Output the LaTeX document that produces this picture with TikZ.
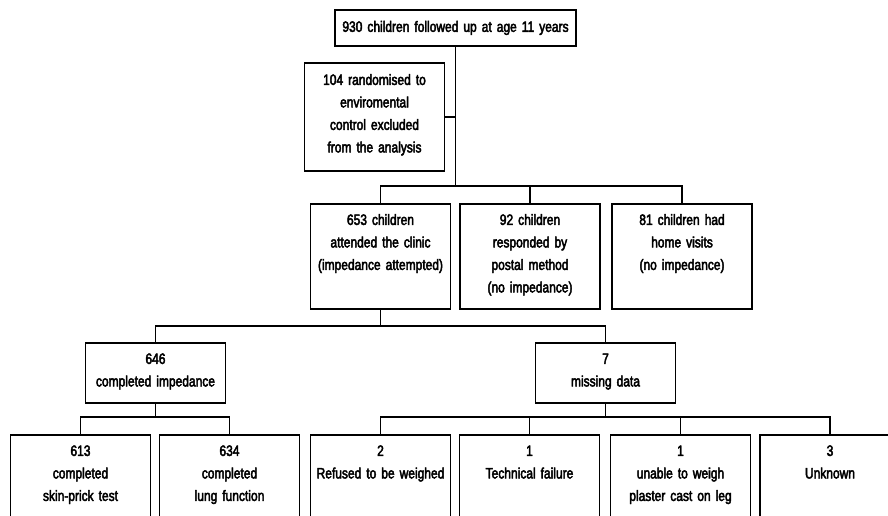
\documentclass[tikz,border=0pt]{standalone}
\usepackage{fontspec}
\setmainfont{Liberation Sans}[FakeStretch=0.8,FakeBold=3]
\begin{document}
\begin{tikzpicture}[x=1pt, y=-1pt,
  box/.style={draw, line width=1.8pt, fill=white, anchor=north, align=center,
    text width=136pt, inner xsep=2pt, inner ysep=10pt, text height=11pt,
    font=\fontsize{15}{22.5}\selectfont},
  tall/.style={box, text depth=74pt},
  short/.style={box, text depth=29pt},
  leaf/.style={box, text depth=69pt},
  link/.style={line width=1.8pt}]
  \useasboundingbox (0,0) rectangle (888,515);
  \clip (0,0) rectangle (888,515);
  \node[box, text width=237pt, inner ysep=0pt, minimum height=36pt] (start) at (455.5,9)
    {930 children followed up at age 11 years};
  \node[box, text depth=75pt, inner ysep=11pt] (excl) at (374.5,62)
    {104 randomised to\\ enviromental\\ control excluded\\ from the analysis};
  \node[tall] (clinic) at (380.5,203) {653 children\\ attended the clinic\\ (impedance attempted)};
  \node[tall] (postal) at (530,203) {92 children\\ responded by\\ postal method\\ (no impedance)};
  \node[tall] (home) at (682,203) {81 children had\\ home visits\\ (no impedance)};
  \node[short] (done) at (155.5,342) {646\\ completed impedance};
  \node[short] (miss) at (605.5,342) {7\\ missing data};
  \node[leaf] (skin) at (80.5,434) {613\\ completed\\ skin-prick test};
  \node[leaf] (lung) at (229.5,434) {634\\ completed\\ lung function};
  \node[leaf] (refused) at (380.5,434) {2\\ Refused to be weighed};
  \node[leaf] (failure) at (529.5,434) {1\\ Technical failure};
  \node[leaf] (plaster) at (680.5,434) {1\\ unable to weigh\\ plaster cast on leg};
  \node[leaf] (unknown) at (830,434) {3\\ Unknown};
  \coordinate (j1) at (455.5,186);
  \coordinate (j2) at (380.5,326);
  \coordinate (j3) at (155.5,417);
  \coordinate (j4) at (605.5,417);
  \draw[link] (start.south) -- (j1);
  \draw[link] (excl.east) -- (excl.east -| start.south);
  \draw[link] (clinic.north) |- (j1) -| (home.north);
  \draw[link] (postal.north) -- (postal.north |- j1);
  \draw[link] (clinic.south) -- (j2);
  \draw[link] (done.north) |- (j2) -| (miss.north);
  \draw[link] (done.south) -- (j3);
  \draw[link] (skin.north) |- (j3) -| (lung.north);
  \draw[link] (miss.south) -- (j4);
  \draw[link] (refused.north) |- (j4) -| (unknown.north);
  \draw[link] (failure.north) -- (failure.north |- j4);
  \draw[link] (plaster.north) -- (plaster.north |- j4);
\end{tikzpicture}
\end{document}
